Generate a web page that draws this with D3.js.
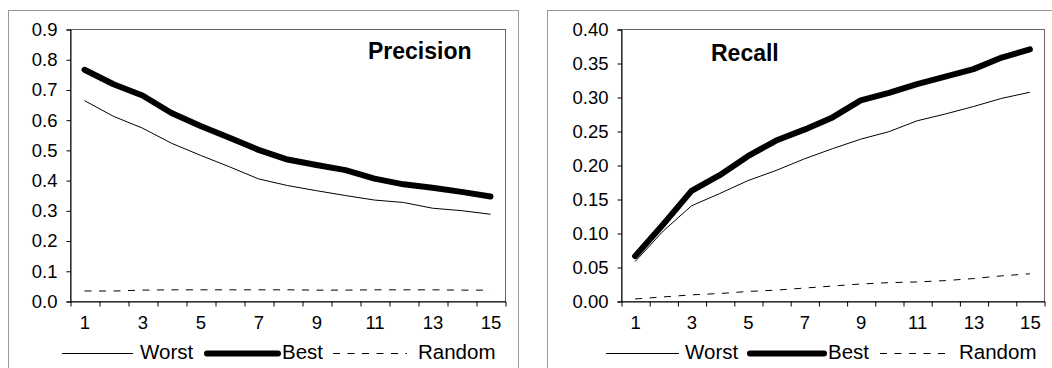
<!DOCTYPE html>
<html>
<head>
<meta charset="utf-8">
<script src="https://cdn.jsdelivr.net/npm/d3@7/dist/d3.min.js"></script>
<style>
  html, body { margin: 0; padding: 0; background: #fff; }
  svg { display: block; font-family: Arial, "Liberation Sans", sans-serif; }
</style>
</head>
<body>
<svg id="chart" width="1052" height="368"></svg>
<script>
// Result-list positions (1..15)
const positions = [1, 2, 3, 4, 5, 6, 7, 8, 9, 10, 11, 12, 13, 14, 15];
const xTickLabels = [1, 3, 5, 7, 9, 11, 13, 15];

// Precision per position
const precisionWorst  = [0.663, 0.611, 0.572, 0.522, 0.482, 0.444, 0.404, 0.382, 0.365, 0.349, 0.334, 0.326, 0.307, 0.299, 0.287];
const precisionBest   = [0.765, 0.717, 0.680, 0.622, 0.579, 0.540, 0.500, 0.468, 0.450, 0.433, 0.405, 0.386, 0.375, 0.361, 0.346];
const precisionRandom = [0.033, 0.033, 0.036, 0.037, 0.037, 0.037, 0.037, 0.037, 0.036, 0.036, 0.037, 0.037, 0.037, 0.036, 0.036];
const precisionTicks  = [0, 0.1, 0.2, 0.3, 0.4, 0.5, 0.6, 0.7, 0.8, 0.9];

// Recall per position
const recallWorst  = [0.058, 0.103, 0.140, 0.158, 0.177, 0.192, 0.209, 0.224, 0.238, 0.249, 0.265, 0.275, 0.286, 0.298, 0.307];
const recallBest   = [0.066, 0.113, 0.162, 0.185, 0.213, 0.236, 0.252, 0.270, 0.295, 0.306, 0.319, 0.330, 0.341, 0.358, 0.370];
const recallRandom = [0.003, 0.006, 0.009, 0.011, 0.014, 0.016, 0.019, 0.022, 0.025, 0.027, 0.028, 0.030, 0.033, 0.037, 0.040];
const recallTicks  = [0, 0.05, 0.10, 0.15, 0.20, 0.25, 0.30, 0.35, 0.40];

const seriesNames = ["Worst", "Best", "Random"];

const svg = d3.select("#chart");

function drawPanel(cfg) {
  const g = svg.append("g");

  // outer chart frame
  g.append("rect")
    .attr("x", cfg.frame[0] + 0.5).attr("y", cfg.frame[1] + 0.5)
    .attr("width", cfg.frame[2]).attr("height", cfg.frame[3])
    .attr("fill", "none").attr("stroke", "#9a9a9a").attr("stroke-width", 1);

  const x = d3.scaleLinear().domain([0.5, 15.5]).range([cfg.left, cfg.right]);
  const y = d3.scaleLinear().domain([0, cfg.yMax]).range([cfg.bottom, cfg.top]);

  // plot area border
  g.append("rect")
    .attr("x", cfg.left + 0.5).attr("y", cfg.top + 0.5)
    .attr("width", cfg.right - cfg.left).attr("height", cfg.bottom - cfg.top)
    .attr("fill", "none").attr("stroke", "#666").attr("stroke-width", 1);

  // y axis
  const yAxis = g.append("g")
    .attr("transform", `translate(${cfg.left + 0.5},0.5)`)
    .call(d3.axisLeft(y).tickValues(cfg.yTicks).tickFormat(d3.format(cfg.yFormat))
      .tickSize(4).tickPadding(9));
  yAxis.select(".domain").attr("stroke", "#000");
  yAxis.selectAll(".tick line").attr("stroke", "#000");
  yAxis.selectAll("text").attr("font-size", 18.5).attr("fill", "#000")
    .attr("font-family", "Arial, 'Liberation Sans', sans-serif");

  // x axis: tick marks between categories
  const xMarks = g.append("g")
    .attr("transform", `translate(0.5,${cfg.bottom + 0.5})`)
    .call(d3.axisBottom(x).tickValues(d3.range(0.5, 15.6, 1)).tickFormat("").tickSize(5).tickSizeOuter(0));
  xMarks.select(".domain").attr("stroke", "#000");
  xMarks.selectAll(".tick line").attr("stroke", "#000");

  // x axis labels at odd categories
  const xLabels = g.append("g")
    .attr("transform", `translate(0,${cfg.bottom})`)
    .call(d3.axisBottom(x).tickValues(xTickLabels).tickSize(0).tickPadding(15));
  xLabels.select(".domain").remove();
  xLabels.selectAll("text").attr("font-size", 18.5).attr("fill", "#000")
    .attr("font-family", "Arial, 'Liberation Sans', sans-serif");

  const line = d3.line()
    .x((d, i) => x(positions[i]))
    .y(d => y(d));

  // Random (dashed)
  g.append("path").datum(cfg.random)
    .attr("d", line).attr("fill", "none")
    .attr("stroke", "#000").attr("stroke-width", 1)
    .attr("stroke-dasharray", "7,7.5");
  // Worst (thin)
  g.append("path").datum(cfg.worst)
    .attr("d", line).attr("fill", "none")
    .attr("stroke", "#000").attr("stroke-width", 1);
  // Best (thick)
  g.append("path").datum(cfg.best)
    .attr("d", line).attr("fill", "none")
    .attr("stroke", "#000").attr("stroke-width", 6)
    .attr("stroke-linecap", "round").attr("stroke-linejoin", "round");

  // panel title
  g.append("text")
    .attr("x", cfg.titleX).attr("y", cfg.titleY)
    .attr("font-size", 23).attr("font-weight", "bold").attr("fill", "#000")
    .text(cfg.title);

  // legend
  const ly = 353.5, ty = 359;
  const lg = g.append("g");
  const L = cfg.legend;
  lg.append("line").attr("x1", L.worst[0]).attr("x2", L.worst[1]).attr("y1", ly).attr("y2", ly)
    .attr("stroke", "#000").attr("stroke-width", 1);
  lg.append("text").attr("x", L.worst[2]).attr("y", ty).attr("font-size", 20.5).text(seriesNames[0]);
  lg.append("line").attr("x1", L.best[0]).attr("x2", L.best[1]).attr("y1", ly).attr("y2", ly)
    .attr("stroke", "#000").attr("stroke-width", 6).attr("stroke-linecap", "round");
  lg.append("text").attr("x", L.best[2]).attr("y", ty).attr("font-size", 20.5).text(seriesNames[1]);
  lg.append("line").attr("x1", L.random[0]).attr("x2", L.random[1]).attr("y1", ly).attr("y2", ly)
    .attr("stroke", "#000").attr("stroke-width", 1).attr("stroke-dasharray", "7,7.5");
  lg.append("text").attr("x", L.random[2]).attr("y", ty).attr("font-size", 20.5).text(seriesNames[2]);
}

drawPanel({
  frame: [8, 10, 510, 380],
  left: 70, right: 505, top: 29, bottom: 301,
  yMax: 0.9, yTicks: precisionTicks, yFormat: ".1f",
  worst: precisionWorst, best: precisionBest, random: precisionRandom,
  title: "Precision", titleX: 368, titleY: 59,
  legend: { worst: [62, 133, 140], best: [207, 278, 282], random: [333, 407, 418] }
});

drawPanel({
  frame: [547, 10, 520, 380],
  left: 621, right: 1044, top: 29, bottom: 301,
  yMax: 0.40, yTicks: recallTicks, yFormat: ".2f",
  worst: recallWorst, best: recallBest, random: recallRandom,
  title: "Recall", titleX: 711, titleY: 61,
  legend: { worst: [606, 679, 685], best: [750, 824, 828], random: [880, 951, 959] }
});
</script>
</body>
</html>
